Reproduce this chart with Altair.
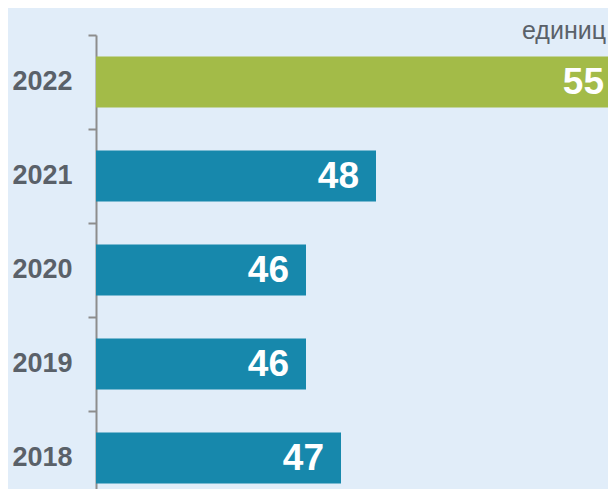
import altair as alt
import pandas as pd

years = ["2022", "2021", "2020", "2019", "2018"]
values = [55, 48, 46, 46, 47]
highlight_year = "2022"
unit_label = "единиц"
axis_start = 40
axis_end = 55

df = pd.DataFrame({"year": years, "value": values})
df["current"] = df["year"] == highlight_year

FONT = "Liberation Sans, Arial, sans-serif"
BG = "#e1edf9"
GREEN = "#a3bb48"
BLUE = "#1788ac"
GRAY = "#5a6169"
AXIS = "#8d8d8d"

y_enc = alt.Y(
    "year:N",
    sort=years,
    scale=alt.Scale(range=[0, 470], paddingInner=0.457, paddingOuter=0.2285),
    axis=alt.Axis(
        title=None,
        bandPosition=0,
        tickOffset=-21.5,
        labelOffset=21,
        labelFont=FONT,
        labelFontSize=27,
        labelFontWeight="bold",
        labelColor=GRAY,
        labelPadding=16,
        tickSize=8,
        tickWidth=2,
        tickColor=AXIS,
        domainColor=AXIS,
        domainWidth=2,
    ),
)
x_scale = alt.Scale(domain=[axis_start, axis_end], range=[0, 525], zero=False)

base = alt.Chart(df)

bars = base.mark_bar().encode(
    y=y_enc,
    x=alt.X("value:Q", scale=x_scale, axis=None),
    x2=alt.datum(axis_start),
    color=alt.condition(alt.datum.current, alt.value(GREEN), alt.value(BLUE)),
)

labels = base.mark_text(
    align="right",
    baseline="middle",
    dx=-17,
    dy=1,
    font=FONT,
    fontSize=37,
    fontWeight="bold",
    color="white",
).encode(
    y=alt.Y("year:N", sort=years),
    x=alt.X("value:Q", scale=x_scale, axis=None),
    text="value:Q",
)

unit = alt.Chart(pd.DataFrame({"t": [unit_label]})).mark_text(
    align="right",
    baseline="alphabetic",
    font=FONT,
    fontSize=25,
    color=GRAY,
).encode(
    x=alt.value(510),
    y=alt.value(4),
    text="t:N",
)

chart = (
    alt.layer(bars, labels, unit)
    .properties(
        width=512,
        height=454,
        autosize=alt.AutoSizeParams(type="none"),
        padding={"left": 88, "top": 27, "right": 0, "bottom": 0},
        background=BG,
    )
    .configure_view(stroke=None)
)

chart.save("out.html", embed_options={"renderer": "svg", "actions": False})
